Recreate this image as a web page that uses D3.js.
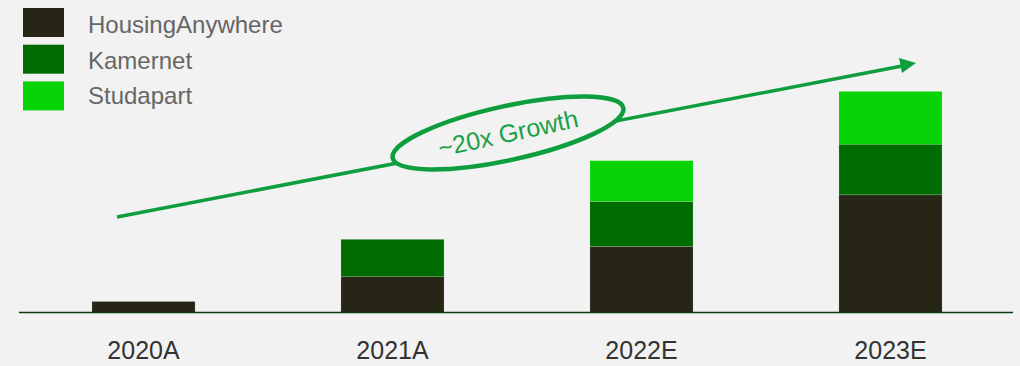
<!DOCTYPE html>
<meta charset="utf-8">
<style>
  html, body { margin: 0; padding: 0; background: #f2f2f2; }
  svg { display: block; font-family: "Liberation Sans", Arial, sans-serif; }
  .legend text { font-size: 24px; fill: #666; }
  .xlabel { font-size: 25px; fill: #333; text-anchor: middle; }
</style>
<svg width="1020" height="366"></svg>
<script src="https://cdn.jsdelivr.net/npm/d3@7"></script>
<script>
// data
var years = ["2020A", "2021A", "2022E", "2023E"];
var seriesNames = ["HousingAnywhere", "Kamernet", "Studapart"];
var housingAnywhere = [1.0, 3.25, 6.0, 10.7];
var kamernet = [0, 3.4, 4.1, 4.6];
var studapart = [0, 0, 3.7, 4.8];
var colors = ["#272516", "#006b00", "#05d305"];
var growthLabel = "~20x Growth";

var svg = d3.select("svg"),
    width = +svg.attr("width"),
    height = +svg.attr("height"),
    base = 312.5;

var x = d3.scaleBand()
    .domain(years)
    .range([19, 1015])
    .paddingInner(0.586)
    .paddingOuter(0.293);

var y = d3.scaleLinear()
    .domain([0, 20])
    .range([base, base - 220]);

var table = years.map(function(yr, i) {
  return { year: yr, HousingAnywhere: housingAnywhere[i], Kamernet: kamernet[i], Studapart: studapart[i] };
});

var stack = d3.stack().keys(seriesNames);
var layers = stack(table);

svg.selectAll(".layer")
  .data(layers)
  .enter().append("g")
    .attr("class", "layer")
    .attr("fill", function(d, i) { return colors[i]; })
  .selectAll("rect")
  .data(function(d) { return d.filter(function(s) { return s[1] > s[0]; }); })
  .enter().append("rect")
    .attr("x", function(d) { return x(d.data.year); })
    .attr("y", function(d) { return y(d[1]); })
    .attr("width", x.bandwidth())
    .attr("height", function(d) { return y(d[0]) - y(d[1]); })
    .attr("stroke", "#ffffff")
    .attr("stroke-opacity", 0.25)
    .attr("stroke-width", 0.6);

// baseline
svg.append("line")
    .attr("x1", 19).attr("x2", 1013)
    .attr("y1", base).attr("y2", base)
    .attr("stroke", "#0a3a0a")
    .attr("stroke-width", 1.6);

// x labels
svg.selectAll(".xlabel")
  .data(years)
  .enter().append("text")
    .attr("class", "xlabel")
    .attr("x", function(d) { return x(d) + x.bandwidth() / 2; })
    .attr("y", 359)
    .text(function(d) { return d; });

// legend
var legend = svg.append("g").attr("class", "legend");
seriesNames.forEach(function(name, i) {
  legend.append("rect")
      .attr("x", 23).attr("y", 8 + i * 36.7)
      .attr("width", 41).attr("height", 29)
      .attr("fill", colors[i]);
  legend.append("text")
      .attr("x", 88).attr("y", 33 + i * 35.7)
      .text(name);
});

// growth arrow
var green = "#0e9e3e";
svg.append("line")
    .attr("x1", 117).attr("y1", 217)
    .attr("x2", 902).attr("y2", 66)
    .attr("stroke", green)
    .attr("stroke-width", 3.5);
svg.append("path")
    .attr("d", "M916,63 L899,58 L902,73 Z")
    .attr("fill", green);

var g = svg.append("g").attr("transform", "translate(508,133) rotate(-12.3)");
g.append("ellipse")
    .attr("rx", 118).attr("ry", 27)
    .attr("fill", "#f2f2f2")
    .attr("stroke", green)
    .attr("stroke-width", 4.5);
g.append("text")
    .attr("text-anchor", "middle")
    .attr("y", 9)
    .style("font-size", "25px")
    .style("fill", "#1aa048")
    .text(growthLabel);
</script>
